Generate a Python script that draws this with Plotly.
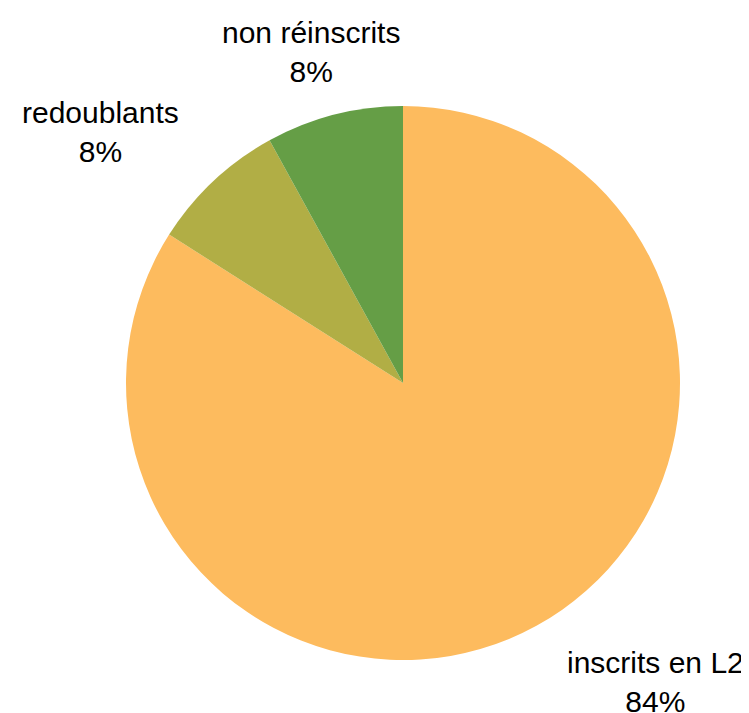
import math
import plotly.graph_objects as go

labels = ["inscrits en L2", "redoublants", "non réinscrits"]
values = [84, 8, 8]
colors = ["#FDBB5E", "#B1AE45", "#659E46"]

W, H = 749, 713
OFF = 8  # default page body margin
CX, CY, R = 403 - OFF, 383 - OFF, 277  # pie centre / radius in figure pixels

fig = go.Figure(go.Pie(
    labels=labels,
    values=values,
    marker=dict(colors=colors, line=dict(width=0)),
    sort=False,
    direction="clockwise",
    rotation=0,
    textinfo="none",
    showlegend=False,
    domain=dict(x=[(CX - R) / W, (CX + R) / W], y=[(H - CY - R) / H, (H - CY + R) / H]),
    hoverinfo="skip",
))

# outside labels, placed near each slice's mid-angle (LibreOffice-style)
total = sum(values)
cum = 0
LR = R * 1.11
SHIFT = math.radians(-3)
for lab, v in zip(labels, values):
    mid = (cum + v / 2) / total * 2 * math.pi
    cum += v
    ang = mid + SHIFT
    sx, cy = math.sin(ang), -math.cos(ang)
    px = CX + LR * sx
    py = CY + LR * cy
    if abs(sx) < 0.4:
        xa = "center"
    else:
        xa = "left" if sx > 0 else "right"
    ya = "top" if cy > 0 else "bottom"
    fig.add_annotation(
        x=px / W, y=1 - py / H, xref="paper", yref="paper",
        text=f"{lab}<br>{round(v / total * 100)}%",
        showarrow=False, xanchor=xa, yanchor=ya, align="center",
        font=dict(family="Liberation Sans, Arial, sans-serif", size=30, color="#000000"),
    )

fig.update_layout(
    width=W,
    height=H,
    margin=dict(l=0, r=0, t=0, b=0),
    paper_bgcolor="#FFFFFF",
    plot_bgcolor="#FFFFFF",
)

fig.write_html("out.html")
